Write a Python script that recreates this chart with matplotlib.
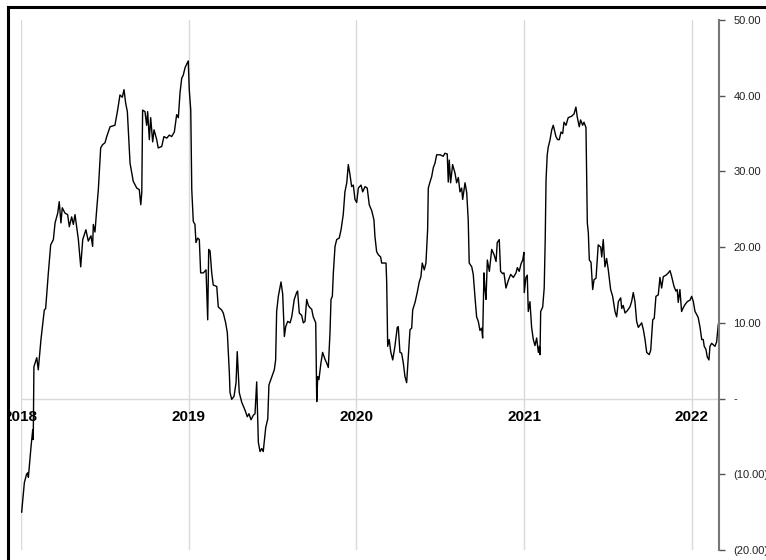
import matplotlib.pyplot as plt
from matplotlib.lines import Line2D
from matplotlib.patches import Rectangle
from matplotlib.ticker import FuncFormatter

plt.rcParams['font.family'] = ['Liberation Sans', 'DejaVu Sans']

# decimal-year time axis and series values
years = [
    2018.004, 2018.020, 2018.033, 2018.040, 2018.044, 2018.060, 2018.070, 2018.073, 2018.077, 2018.094,
    2018.103, 2018.119, 2018.139, 2018.147, 2018.163, 2018.177, 2018.193, 2018.203, 2018.219, 2018.228,
    2018.238, 2018.246, 2018.262, 2018.278, 2018.288, 2018.302, 2018.312, 2018.322, 2018.332, 2018.342,
    2018.356, 2018.368, 2018.387, 2018.401, 2018.417, 2018.427, 2018.431, 2018.441, 2018.451, 2018.461,
    2018.475, 2018.485, 2018.501, 2018.511, 2018.531, 2018.560, 2018.576, 2018.590, 2018.604, 2018.614,
    2018.624, 2018.634, 2018.650, 2018.669, 2018.690, 2018.705, 2018.714, 2018.720, 2018.725, 2018.739,
    2018.749, 2018.755, 2018.765, 2018.773, 2018.785, 2018.793, 2018.809, 2018.818, 2018.839, 2018.852,
    2018.869, 2018.884, 2018.898, 2018.914, 2018.928, 2018.938, 2018.948, 2018.958, 2018.967, 2018.978,
    2018.997, 2019.003, 2019.012, 2019.018, 2019.027, 2019.037, 2019.043, 2019.053, 2019.063, 2019.071,
    2019.087, 2019.103, 2019.113, 2019.119, 2019.127, 2019.137, 2019.146, 2019.167, 2019.176, 2019.196,
    2019.206, 2019.220, 2019.230, 2019.242, 2019.246, 2019.256, 2019.270, 2019.282, 2019.289, 2019.301,
    2019.316, 2019.335, 2019.349, 2019.359, 2019.371, 2019.385, 2019.395, 2019.405, 2019.415, 2019.425,
    2019.435, 2019.444, 2019.459, 2019.471, 2019.478, 2019.494, 2019.510, 2019.518, 2019.524, 2019.534,
    2019.550, 2019.560, 2019.570, 2019.578, 2019.590, 2019.604, 2019.614, 2019.629, 2019.643, 2019.649,
    2019.659, 2019.673, 2019.683, 2019.693, 2019.703, 2019.713, 2019.723, 2019.733, 2019.742, 2019.757,
    2019.763, 2019.769, 2019.776, 2019.788, 2019.798, 2019.812, 2019.822, 2019.832, 2019.842, 2019.848,
    2019.856, 2019.862, 2019.872, 2019.882, 2019.897, 2019.908, 2019.921, 2019.931, 2019.942, 2019.951,
    2019.961, 2019.971, 2019.981, 2019.991, 2020.001, 2020.011, 2020.027, 2020.037, 2020.051, 2020.064,
    2020.076, 2020.091, 2020.104, 2020.110, 2020.120, 2020.130, 2020.144, 2020.150, 2020.176, 2020.180,
    2020.186, 2020.195, 2020.204, 2020.216, 2020.229, 2020.243, 2020.249, 2020.259, 2020.269, 2020.279,
    2020.289, 2020.299, 2020.309, 2020.319, 2020.329, 2020.335, 2020.349, 2020.362, 2020.374, 2020.384,
    2020.392, 2020.404, 2020.414, 2020.424, 2020.428, 2020.438, 2020.448, 2020.458, 2020.468, 2020.478,
    2020.498, 2020.517, 2020.527, 2020.541, 2020.547, 2020.553, 2020.561, 2020.573, 2020.587, 2020.597,
    2020.607, 2020.617, 2020.627, 2020.633, 2020.647, 2020.657, 2020.666, 2020.672, 2020.687, 2020.696,
    2020.706, 2020.716, 2020.726, 2020.736, 2020.746, 2020.752, 2020.760, 2020.766, 2020.772, 2020.780,
    2020.792, 2020.806, 2020.820, 2020.832, 2020.839, 2020.851, 2020.859, 2020.871, 2020.879, 2020.891,
    2020.905, 2020.919, 2020.935, 2020.951, 2020.959, 2020.970, 2020.981, 2020.991, 2020.998, 2021.000,
    2021.010, 2021.018, 2021.024, 2021.034, 2021.044, 2021.054, 2021.064, 2021.074, 2021.084, 2021.090,
    2021.094, 2021.098, 2021.110, 2021.119, 2021.125, 2021.130, 2021.137, 2021.143, 2021.153, 2021.164,
    2021.173, 2021.183, 2021.189, 2021.199, 2021.209, 2021.219, 2021.229, 2021.237, 2021.249, 2021.262,
    2021.283, 2021.297, 2021.308, 2021.316, 2021.328, 2021.336, 2021.348, 2021.356, 2021.368, 2021.376,
    2021.382, 2021.388, 2021.398, 2021.408, 2021.416, 2021.428, 2021.435, 2021.441, 2021.456, 2021.462,
    2021.471, 2021.481, 2021.491, 2021.501, 2021.515, 2021.527, 2021.541, 2021.551, 2021.561, 2021.575,
    2021.581, 2021.590, 2021.601, 2021.614, 2021.630, 2021.640, 2021.650, 2021.660, 2021.670, 2021.680,
    2021.700, 2021.710, 2021.720, 2021.730, 2021.745, 2021.754, 2021.766, 2021.775, 2021.785, 2021.799,
    2021.809, 2021.819, 2021.829, 2021.845, 2021.859, 2021.869, 2021.879, 2021.893, 2021.904, 2021.912,
    2021.918, 2021.928, 2021.938, 2021.948, 2021.958, 2021.972, 2021.988, 2021.998, 2022.008, 2022.018,
    2022.028, 2022.037, 2022.048, 2022.058, 2022.067, 2022.073, 2022.083, 2022.091, 2022.101, 2022.107,
    2022.117, 2022.127, 2022.137, 2022.147, 2022.157,
]
values = [
    -15.0, -11.1, -10.0, -9.8, -10.4, -6.3, -4.1, -5.4, 4.2, 5.4,
    3.8, 7.8, 11.7, 11.9, 16.6, 20.3, 21.0, 23.2, 24.5, 26.0,
    23.2, 25.2, 24.5, 24.3, 22.7, 24.0, 23.0, 24.3, 22.7, 21.0,
    17.4, 21.0, 22.3, 20.8, 21.5, 20.1, 23.0, 22.0, 24.9, 27.6,
    33.1, 33.5, 33.8, 34.6, 35.9, 36.1, 38.1, 40.1, 39.8, 40.8,
    39.0, 37.9, 31.1, 28.7, 27.8, 27.6, 25.6, 27.2, 38.1, 37.9,
    36.1, 37.9, 34.2, 37.1, 33.9, 35.5, 34.2, 33.1, 33.3, 34.6,
    34.4, 34.8, 34.6, 35.2, 37.5, 37.1, 40.4, 42.3, 42.7, 43.7,
    44.6, 40.8, 38.1, 27.6, 23.4, 23.0, 20.6, 21.2, 21.0, 16.6,
    16.6, 17.0, 10.4, 19.7, 19.5, 16.6, 15.0, 14.8, 12.1, 11.7,
    11.3, 10.0, 8.7, 3.4, 0.8, -0.1, 0.3, 2.1, 6.2, 0.8,
    -0.5, -1.5, -2.4, -2.0, -2.8, -2.2, -2.0, 2.2, -5.8, -7.0,
    -6.6, -7.0, -3.8, -2.7, 1.8, 2.8, 3.8, 5.1, 11.5, 13.5,
    15.4, 13.8, 8.2, 9.5, 10.2, 10.0, 10.8, 13.1, 14.0, 14.2,
    11.3, 11.0, 10.0, 10.2, 13.1, 12.3, 12.0, 11.8, 10.8, 10.0,
    -0.4, 2.9, 2.5, 4.7, 6.1, 5.2, 4.7, 4.1, 8.7, 13.1,
    13.5, 16.6, 20.1, 21.0, 21.2, 22.3, 24.3, 27.3, 28.5, 30.9,
    29.6, 28.0, 28.2, 26.3, 25.9, 27.8, 28.2, 27.3, 28.0, 27.8,
    25.6, 24.8, 23.6, 21.4, 19.4, 19.0, 18.7, 17.9, 17.9, 15.4,
    6.9, 7.8, 6.2, 5.1, 6.9, 9.4, 9.5, 6.1, 6.0, 4.7,
    2.9, 2.1, 5.5, 9.1, 9.3, 11.7, 12.7, 14.0, 15.4, 16.1,
    17.9, 17.0, 17.9, 22.3, 27.8, 28.6, 29.3, 30.5, 31.1, 32.2,
    32.2, 32.0, 32.4, 32.3, 28.6, 31.5, 28.5, 30.9, 29.8, 28.5,
    29.2, 27.3, 27.8, 26.3, 28.5, 27.2, 23.6, 17.9, 17.4, 16.4,
    13.5, 10.8, 10.2, 9.0, 9.3, 8.0, 16.6, 14.4, 13.1, 18.3,
    16.8, 19.7, 19.0, 18.1, 20.6, 21.0, 16.8, 16.5, 16.6, 14.6,
    15.6, 16.4, 16.0, 16.6, 17.3, 16.8, 17.8, 18.3, 19.3, 14.0,
    16.0, 16.3, 11.5, 12.8, 9.4, 7.8, 7.0, 8.0, 6.1, 6.9,
    5.8, 11.5, 12.1, 14.6, 21.0, 28.9, 32.2, 33.2, 34.1, 35.5,
    36.1, 35.2, 34.6, 34.2, 34.2, 35.2, 35.0, 36.5, 36.1, 37.1,
    37.3, 37.6, 38.5, 37.2, 35.9, 36.8, 36.1, 36.5, 35.8, 23.2,
    21.9, 18.3, 18.0, 14.4, 15.7, 15.9, 18.3, 20.3, 20.0, 18.7,
    21.0, 17.4, 18.5, 17.0, 14.4, 13.5, 11.5, 10.8, 12.8, 13.3,
    11.9, 12.3, 11.3, 11.6, 12.1, 12.8, 14.0, 12.8, 10.2, 9.4,
    10.0, 9.1, 7.8, 6.1, 5.8, 6.4, 10.4, 10.6, 13.5, 13.7,
    16.0, 14.6, 16.1, 16.3, 16.6, 16.9, 16.1, 14.8, 14.2, 14.4,
    12.7, 14.4, 11.5, 12.0, 12.4, 12.8, 13.0, 13.5, 12.8, 11.5,
    11.1, 10.7, 9.4, 7.8, 7.8, 6.9, 6.5, 5.5, 5.1, 6.9,
    7.3, 7.1, 6.9, 7.5, 9.8,
]
year_labels = [2018, 2019, 2020, 2021, 2022]
y_ticks = [-20, -10, 0, 10, 20, 30, 40, 50]


def fmt_value(v, pos):
    if v == 0:
        return '-'
    if v < 0:
        return '(%.2f)' % abs(v)
    return '%.2f' % v


fig = plt.figure(figsize=(7.66, 5.6), dpi=100)
ax = fig.add_axes([21 / 766, 10 / 560, 698 / 766, 530 / 560])

# light grid: year verticals and the zero line
for yr in year_labels:
    ax.axvline(yr, color='#d9d9d9', lw=1, zorder=0)
ax.axhline(0, color='#d9d9d9', lw=1, zorder=0)

ax.plot(years, values, color='black', lw=1.0, zorder=2)

ax.set_xlim(2018.0, 2022.161)
ax.set_ylim(-20, 50)

for s in ['left', 'top', 'bottom']:
    ax.spines[s].set_visible(False)
ax.spines['right'].set_color('#777777')
ax.spines['right'].set_linewidth(1.5)

ax.set_xticks([])
ax.yaxis.tick_right()
ax.set_yticks(y_ticks)
ax.yaxis.set_major_formatter(FuncFormatter(fmt_value))
ax.tick_params(axis='y', direction='out', length=4, width=1, color='#555555',
               pad=6.5, labelsize=8, labelcolor='#222222')

# bold year labels sitting just under the zero line
for yr in year_labels:
    ax.annotate(str(yr), xy=(yr, 0), xytext=(0, -13.5), textcoords='offset points',
                ha='center', va='center', fontsize=11, fontweight='bold',
                annotation_clip=False, zorder=3)

# outer frame (left and top edges), covering anything left of it
fig.add_artist(Rectangle((0, 0), 8 / 766, 1, transform=fig.transFigure,
                         facecolor='white', edgecolor='none', zorder=10))
fig.add_artist(Line2D([8 / 766, 8 / 766], [0, 1 - 7 / 560], transform=fig.transFigure,
                      color='black', lw=2.2, zorder=11))
fig.add_artist(Line2D([8 / 766, 1], [1 - 7 / 560, 1 - 7 / 560], transform=fig.transFigure,
                      color='black', lw=2.2, zorder=11))

fig.savefig('out.png', dpi=100)
